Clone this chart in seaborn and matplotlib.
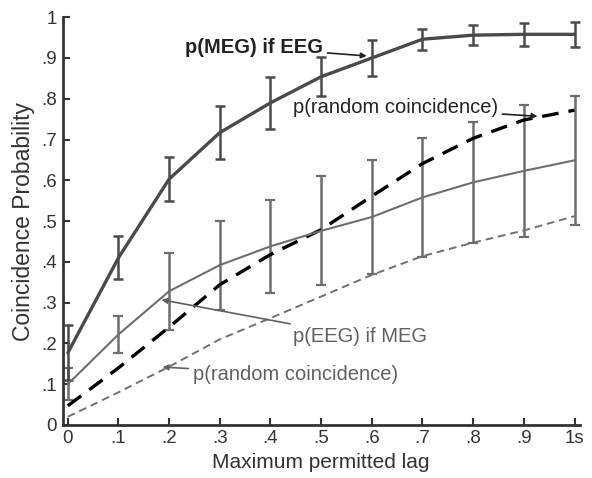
import matplotlib
matplotlib.use("Agg")
import matplotlib.pyplot as plt
import seaborn as sns
import numpy as np

lags = [0.0, 0.1, 0.2, 0.3, 0.4, 0.5, 0.6, 0.7, 0.8, 0.9, 1.0]
meg_if_eeg = [0.177, 0.41, 0.603, 0.717, 0.79, 0.854, 0.90, 0.946, 0.956, 0.958, 0.958]
meg_err = [0.068, 0.053, 0.053, 0.065, 0.064, 0.048, 0.043, 0.026, 0.025, 0.028, 0.03]
eeg_if_meg = [0.10, 0.222, 0.328, 0.392, 0.438, 0.476, 0.51, 0.558, 0.595, 0.623, 0.649]
eeg_err = [0.04, 0.046, 0.094, 0.109, 0.114, 0.134, 0.141, 0.145, 0.148, 0.161, 0.158]
rand_meg = [0.047, 0.14, 0.24, 0.344, 0.418, 0.479, 0.561, 0.641, 0.703, 0.748, 0.772]
rand_eeg = [0.02, 0.08, 0.143, 0.21, 0.262, 0.315, 0.368, 0.414, 0.447, 0.477, 0.512]

xticks = [0, 0.1, 0.2, 0.3, 0.4, 0.5, 0.6, 0.7, 0.8, 0.9, 1.0]
xticklabels = ["0", ".1", ".2", ".3", ".4", ".5", ".6", ".7", ".8", ".9", "1s"]
yticks = [0, 0.1, 0.2, 0.3, 0.4, 0.5, 0.6, 0.7, 0.8, 0.9, 1.0]
yticklabels = ["0", ".1", ".2", ".3", ".4", ".5", ".6", ".7", ".8", ".9", "1"]

sns.set_theme(style="ticks")
plt.rcParams["font.family"] = ["Liberation Sans", "DejaVu Sans"]

fig = plt.figure(figsize=(5.92, 4.78), dpi=100)
ax = fig.add_axes([0.106, 0.111, 0.873, 0.853])

c_meg = "#4a4a4a"
c_eeg = "#6e6e6e"
c_dot = "#707070"

# error bars
ax.errorbar(lags, eeg_if_meg, yerr=eeg_err, fmt="none", ecolor=c_eeg,
            elinewidth=1.8, capsize=3.6, capthick=1.6, zorder=2)
ax.errorbar(lags, meg_if_eeg, yerr=meg_err, fmt="none", ecolor=c_meg,
            elinewidth=1.8, capsize=3.6, capthick=1.8, zorder=3)

sns.lineplot(x=lags, y=rand_eeg, ax=ax, color=c_dot, linewidth=1.4,
             linestyle=(0, (4, 2.5)), zorder=2)
sns.lineplot(x=lags, y=rand_meg, ax=ax, color="black", linewidth=2.4,
             linestyle=(0, (5, 3)), zorder=3)
sns.lineplot(x=lags, y=eeg_if_meg, ax=ax, color=c_eeg, linewidth=1.5, zorder=3)
sns.lineplot(x=lags, y=meg_if_eeg, ax=ax, color=c_meg, linewidth=2.4, zorder=4)

ax.set_xlim(-0.01, 1.01)
ax.set_ylim(0, 1.0)
ax.set_xticks(xticks)
ax.set_xticklabels(xticklabels)
ax.set_yticks(yticks)
ax.set_yticklabels(yticklabels)
ax.tick_params(direction="in", length=5, width=1.5, colors="#333333",
               labelsize=13.5, labelcolor="#333333", pad=4)
for s in ["top", "right"]:
    ax.spines[s].set_visible(False)
for s in ["left", "bottom"]:
    ax.spines[s].set_linewidth(2)
    ax.spines[s].set_color("#333333")

ax.set_xlabel("Maximum permitted lag", fontsize=15, color="#333333", labelpad=4)
ax.set_ylabel("Coincidence Probability", fontsize=16.5, color="#333333", labelpad=5)

arrow_kw = dict(arrowstyle="-|>", mutation_scale=8, lw=1.2, shrinkA=1, shrinkB=0)
fs = 14.5
ax.annotate("p(MEG) if EEG", xy=(0.59, 0.905), xytext=(0.231, 0.926),
            fontsize=fs, fontweight="bold", color="#222222", va="center", ha="left",
            arrowprops=dict(color="#222222", **arrow_kw))
ax.annotate("p(random coincidence)", xy=(0.927, 0.757), xytext=(0.444, 0.779),
            fontsize=fs, color="#222222", va="center", ha="left",
            arrowprops=dict(color="#222222", **arrow_kw))
ax.annotate("p(EEG) if MEG", xy=(0.185, 0.307), xytext=(0.444, 0.216),
            fontsize=fs, color="#606060", va="center", ha="left",
            arrowprops=dict(color="#606060", **arrow_kw))
ax.annotate("p(random coincidence)", xy=(0.187, 0.142), xytext=(0.247, 0.123),
            fontsize=fs, color="#606060", va="center", ha="left",
            arrowprops=dict(color="#606060", **arrow_kw))

fig.savefig("out.png", dpi=100)
